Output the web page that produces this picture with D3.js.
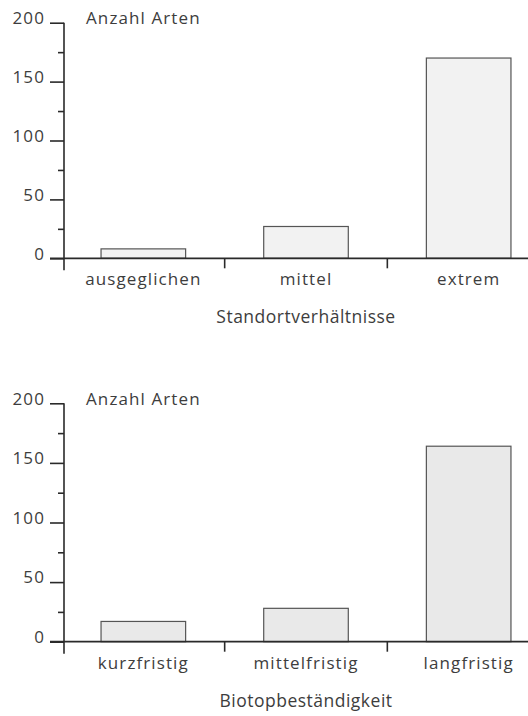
<!DOCTYPE html>
<meta charset="utf-8">
<style>
body { margin: 0; background: #fff; }
svg text { font-family: "Open Sans", sans-serif; fill: #3d3d3d; }
.lbl { font-size: 17px; letter-spacing: 1.1px; }
.ttl { font-size: 17.5px; letter-spacing: 0.5px; }
</style>
<svg width="528" height="716"></svg>
<script src="https://d3js.org/d3.v7.min.js"></script>
<script>

// data
var catsTop = ["ausgeglichen", "mittel", "extrem"];
var valsTop = [8, 27, 170];
var titleTop = "Standortverhältnisse";

var catsBottom = ["kurzfristig", "mittelfristig", "langfristig"];
var valsBottom = [17, 28, 164];
var titleBottom = "Biotopbeständigkeit";

var majorTicks = [0, 50, 100, 150, 200];
var minorTicks = [25, 75, 125, 175];
var yLabel = "Anzahl Arten";

var svg = d3.select("svg");

function panel(cats, vals, title, y0, y200, fill) {
  var g = svg.append("g");

  var x = d3.scaleBand()
      .domain(cats)
      .range([62, 550])
      .paddingInner(0.48)
      .paddingOuter(0.24);

  var y = d3.scaleLinear()
      .domain([0, 200])
      .range([y0, y200]);

  // bars
  g.selectAll("rect")
      .data(vals)
      .enter().append("rect")
      .attr("x", function(d, i) { return x(cats[i]); })
      .attr("y", function(d) { return y(d); })
      .attr("width", x.bandwidth())
      .attr("height", function(d) { return y(0) - y(d); })
      .attr("fill", fill)
      .attr("stroke", "#555")
      .attr("stroke-width", 1.2);

  // y axis: major ticks with labels, minor ticks without
  var major = g.append("g")
      .attr("transform", "translate(64,0)")
      .call(d3.axisLeft(y).tickValues(majorTicks).tickSize(14).tickPadding(5));
  var minor = g.append("g")
      .attr("transform", "translate(64,0)")
      .call(d3.axisLeft(y).tickValues(minorTicks).tickSize(6).tickFormat(""));
  [major, minor].forEach(function(a) {
    a.select(".domain").remove();
    a.selectAll("line").attr("stroke", "#2a2a2a").attr("stroke-width", 1.6);
  });
  major.selectAll("text")
      .attr("class", "lbl")
      .attr("font-family", null)
      .attr("font-size", null)
      .attr("fill", null)
      .attr("dy", "0.05em");

  // vertical axis line, running a little below the baseline
  g.append("line")
      .attr("x1", 64).attr("x2", 64)
      .attr("y1", y(200)).attr("y2", y(0) + 12)
      .attr("stroke", "#2a2a2a").attr("stroke-width", 1.6);

  // baseline
  g.append("line")
      .attr("x1", 50).attr("x2", 528)
      .attr("y1", y(0)).attr("y2", y(0))
      .attr("stroke", "#2a2a2a").attr("stroke-width", 1.8);

  // separators between categories
  var centers = cats.map(function(c) { return x(c) + x.bandwidth() / 2; });
  var seps = d3.pairs(centers).map(function(p) { return (p[0] + p[1]) / 2; });
  g.selectAll(".sep")
      .data(seps)
      .enter().append("line")
      .attr("class", "sep")
      .attr("x1", function(d) { return d; }).attr("x2", function(d) { return d; })
      .attr("y1", y(0)).attr("y2", y(0) + 10)
      .attr("stroke", "#2a2a2a").attr("stroke-width", 1.6);

  // category labels
  g.selectAll(".cat")
      .data(cats)
      .enter().append("text")
      .attr("class", "lbl cat")
      .attr("x", function(d) { return x(d) + x.bandwidth() / 2; })
      .attr("y", y(0) + 27)
      .attr("text-anchor", "middle")
      .text(function(d) { return d; });

  g.append("text")
      .attr("class", "lbl")
      .attr("x", 86)
      .attr("y", y(200) + 1.5)
      .text(yLabel);

  g.append("text")
      .attr("class", "ttl")
      .attr("x", 306)
      .attr("y", y(0) + 65)
      .attr("text-anchor", "middle")
      .text(title);
}

panel(catsTop, valsTop, titleTop, 258.3, 22.7, "#f2f2f2");
panel(catsBottom, valsBottom, titleBottom, 641.7, 403.3, "#e9e9e9");

</script>
